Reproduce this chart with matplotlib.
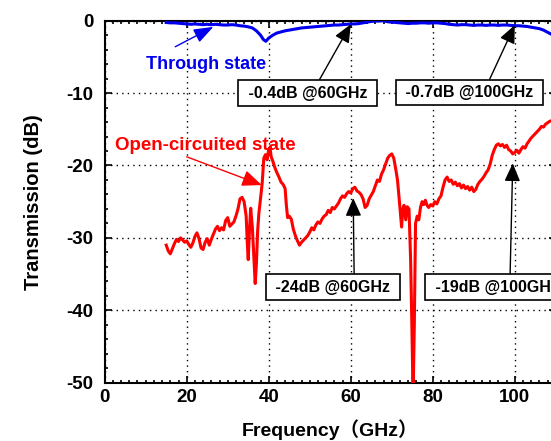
import matplotlib
matplotlib.use("Agg")
import matplotlib.pyplot as plt
from matplotlib.ticker import MultipleLocator

plt.rcParams['font.family'] = ['Liberation Sans', 'Noto Sans CJK JP', 'DejaVu Sans']
plt.rcParams['font.weight'] = 'bold'
plt.rcParams['axes.unicode_minus'] = False

# Through state (blue)
thru_f = [15, 16, 17, 18, 19, 20, 21, 22, 23, 24,
          25, 26, 27, 28, 29, 30, 31, 32, 33, 34,
          35, 36, 37, 38, 38.7, 39.3, 40, 41, 42, 43,
          44, 45, 46, 47, 48, 49, 50, 51, 52, 53,
          54, 55, 56, 57, 58, 59, 60, 61, 62, 63,
          64, 65, 66, 67, 68, 69, 70, 71, 72, 73,
          74, 75, 76, 77, 78, 79, 80, 81, 82, 83,
          84, 85, 86, 87, 88, 89, 90, 91, 92, 93,
          94, 95, 96, 97, 98, 99, 100, 101, 102, 103,
          104, 105, 106, 107, 108, 109, 110]
thru_db = [-0.25, -0.3, -0.3, -0.35, -0.4, -0.45, -0.5, -0.45, -0.5, -0.55,
           -0.5, -0.55, -0.5, -0.55, -0.6, -0.6, -0.55, -0.6, -0.7, -0.75,
           -0.85, -1.0, -1.4, -2.0, -2.6, -2.85, -2.4, -2.0, -1.7, -1.55,
           -1.4, -1.3, -1.2, -1.1, -1.0, -0.95, -0.9, -0.85, -0.8, -0.75,
           -0.7, -0.65, -0.6, -0.6, -0.55, -0.5, -0.45, -0.45, -0.4, -0.3,
           -0.2, -0.1, -0.05, -0.05, 0.0, -0.15, -0.2, -0.25, -0.3, -0.35,
           -0.4, -0.35, -0.35, -0.3, -0.3, -0.35, -0.3, -0.3, -0.35, -0.4,
           -0.5, -0.55, -0.6, -0.55, -0.55, -0.6, -0.65, -0.6, -0.6, -0.65,
           -0.6, -0.6, -0.65, -0.6, -0.6, -0.65, -0.7, -0.7, -0.75, -0.8,
           -0.9, -1.0, -1.1, -1.3, -1.6, -1.9, -2.3]

# Open-circuited state (red)
open_f = [15.0, 15.5, 16.0, 16.5, 17.0, 17.5, 18.0, 18.5, 19.0, 19.5, 20.0, 20.5, 21.0,
          21.5, 22.0, 22.5, 23.0, 23.5, 24.0, 24.5, 25.0, 25.5, 26.0, 26.5, 27.0, 27.5,
          28.0, 28.5, 29.0, 29.5, 30.0, 30.5, 31.0, 31.5, 32.0, 32.5, 33.0, 33.5, 34.0,
          34.5, 34.8, 35.0, 35.3, 35.6, 36.0, 36.4, 36.7, 37.0, 37.3, 37.6, 38.0, 38.4,
          38.8, 39.2, 39.6, 40.0, 40.3, 40.6, 41.0, 41.5, 42.0, 42.5, 43.0, 43.5, 44.0,
          44.3, 44.6, 45.0, 45.5, 46.0, 46.5, 47.0, 47.5, 48.0, 48.5, 49.0, 49.5, 50.0,
          50.5, 51.0, 51.5, 52.0, 52.5, 53.0, 53.5, 54.0, 54.5, 55.0, 55.5, 56.0, 56.5,
          57.0, 57.5, 58.0, 58.5, 59.0, 59.5, 60.0, 60.5, 61.0, 61.5, 62.0, 62.5, 63.0,
          63.5, 64.0, 64.5, 65.0, 65.5, 66.0, 66.5, 67.0, 67.5, 68.0, 68.5, 69.0, 69.5,
          70.0, 70.5, 71.0, 71.4, 71.8, 72.1, 72.4, 72.7, 73.0, 73.4, 73.8, 74.2, 74.6,
          74.9, 75.2, 75.5, 75.8, 76.2, 76.6, 77.0, 77.4, 77.8, 78.2, 78.6, 79.0, 79.5,
          80.0, 80.5, 81.0, 81.5, 82.0, 82.5, 83.0, 83.5, 84.0, 84.5, 85.0, 85.5, 86.0,
          86.5, 87.0, 87.5, 88.0, 88.5, 89.0, 89.5, 90.0, 90.5, 91.0, 91.5, 92.0, 92.5,
          93.0, 93.5, 94.0, 94.5, 95.0, 95.5, 96.0, 96.5, 97.0, 97.5, 98.0, 98.5, 99.0,
          99.5, 100.0, 100.5, 101.0, 101.5, 102.0, 102.5, 103.0, 103.5, 104.0, 104.5,
          105.0, 105.5, 106.0, 106.5, 107.0, 107.5, 108.0, 108.5, 109.0, 110.0]
open_db = [-31.0, -31.8, -32.2, -31.5, -30.8, -30.2, -30.5, -30.0, -30.3, -30.6, -30.4,
           -30.9, -31.3, -30.7, -29.8, -29.3, -30.1, -31.4, -31.6, -30.6, -30.1, -31.0,
           -30.2, -29.5, -28.8, -28.4, -29.0, -28.6, -28.9, -27.6, -27.2, -28.4, -28.1,
           -27.8, -27.0, -26.0, -24.6, -24.4, -25.0, -27.0, -31.0, -33.0, -29.0, -25.9,
           -28.5, -33.0, -36.3, -33.5, -29.0, -26.6, -24.5, -22.5, -19.0, -18.5, -19.2,
           -17.8, -17.5, -18.8, -19.4, -20.3, -21.0, -21.6, -22.3, -22.6, -23.2, -25.5,
           -27.2, -27.0, -27.4, -28.8, -29.7, -30.4, -31.0, -30.6, -30.3, -30.0, -29.7,
           -29.2, -28.6, -28.9, -28.2, -27.8, -28.0, -27.4, -27.0, -26.8, -26.2, -26.5,
           -25.8, -26.0, -25.6, -25.2, -24.6, -24.2, -24.4, -23.9, -23.6, -23.8, -23.2,
           -23.0, -23.5, -23.7, -24.0, -24.6, -25.8, -25.5, -24.6, -24.1, -23.6, -22.8,
           -22.0, -22.2, -21.2, -20.6, -19.8, -19.0, -18.6, -18.4, -19.0, -20.6, -22.0,
           -24.5, -26.5, -28.5, -26.0, -25.5, -27.5, -25.7, -26.0, -33.0, -42.0, -52.0,
           -42.0, -28.0, -27.0, -27.5, -25.8, -25.0, -25.4, -24.8, -25.5, -25.8, -25.4,
           -25.6, -25.0, -25.3, -24.6, -24.2, -23.0, -22.0, -21.6, -22.2, -22.0, -22.6,
           -22.3, -22.8, -22.5, -23.1, -22.7, -23.2, -22.9, -23.4, -23.0, -23.6, -23.3,
           -22.6, -22.2, -21.9, -21.5, -21.0, -20.6, -19.8, -18.6, -17.8, -17.2, -17.0,
           -17.3, -17.1, -17.5, -17.2, -17.8, -18.0, -18.4, -18.2, -17.9, -18.3, -17.8,
           -17.4, -17.6, -17.0, -16.6, -16.2, -15.9, -15.6, -15.3, -15.0, -14.6, -14.7,
           -14.3, -14.1, -13.9, -13.8, -13.6]

xticks = [0, 20, 40, 60, 80, 100]
yticks = [0, -10, -20, -30, -40, -50]

BLUE = '#0000ee'
RED = '#ff0000'

fig = plt.figure(figsize=(5.51, 4.41), dpi=100)
ax = fig.add_axes([0.19, 0.1322, 0.8187, 0.8209])

ax.plot(thru_f, thru_db, color=BLUE, lw=2.2, zorder=3)
ax.plot(open_f, open_db, color=RED, lw=2.2, zorder=3)

ax.set_xlim(0, 110)
ax.set_ylim(-50, 0)
ax.set_xticks(xticks)
ax.set_yticks(yticks)
ax.xaxis.set_minor_locator(MultipleLocator(2))
ax.yaxis.set_minor_locator(MultipleLocator(2))
ax.grid(True, which='major', linestyle=(0, (1, 3)), color='black', lw=1.0)
ax.tick_params(which='both', direction='in', top=True, right=True, width=1.2)
ax.tick_params(which='major', length=5, labelsize=13.5)
ax.tick_params(which='minor', length=2.5)
ax.tick_params(axis='y', pad=8)
ax.tick_params(axis='x', pad=4.5)
for s in ax.spines.values():
    s.set_linewidth(1.5)
    s.set_color('black')

ax.set_xlabel('Frequency（GHz）', fontsize=14, fontweight='bold', labelpad=9.5)
ax.set_ylabel('Transmission (dB)', fontsize=14.5, fontweight='bold', labelpad=17)

# Curve labels
ax.text(24.7, -6.1, 'Through state', color=BLUE, fontsize=13, fontweight='bold',
        ha='center', va='center')
ax.annotate('', xy=(26.5, -0.85), xytext=(17.2, -3.6),
            arrowprops=dict(arrowstyle='-|>,head_length=0.6,head_width=0.22',
                            color=BLUE, lw=1, mutation_scale=20, shrinkA=0, shrinkB=0))
ax.text(24.5, -17.2, 'Open-circuited state', color=RED, fontsize=13.5, fontweight='bold',
        ha='center', va='center')
ax.annotate('', xy=(38.3, -22.7), xytext=(20.0, -18.8),
            arrowprops=dict(arrowstyle='-|>,head_length=0.6,head_width=0.25',
                            color=RED, lw=1, mutation_scale=20, shrinkA=0, shrinkB=0))

# Boxed value annotations
box = dict(boxstyle='square,pad=0.33', fc='white', ec='black', lw=1.2)
ann = [(' -0.4dB @60GHz ', (60, -0.5), (49.5, -10.0), 0.566),
       (' -0.7dB @100GHz ', (100, -0.6), (88.9, -9.9), 0.63),
       (' -24dB @60GHz ', (60.6, -24.5), (55.6, -36.8), 0.674),
       (' -19dB @100GHz ', (99.5, -19.7), (95.6, -36.8), 0.6)]
for txt, xy, xyt, rp in ann:
    ax.annotate(txt, xy=xy, xytext=xyt, ha='center', va='center', fontsize=11.5,
                fontweight='bold', bbox=box, zorder=5,
                arrowprops=dict(arrowstyle='-|>,head_length=0.5,head_width=0.22',
                                color='black', lw=1, mutation_scale=22,
                                shrinkA=0, shrinkB=0, relpos=(rp, 1.0)))

fig.savefig('out.png', dpi=100)
